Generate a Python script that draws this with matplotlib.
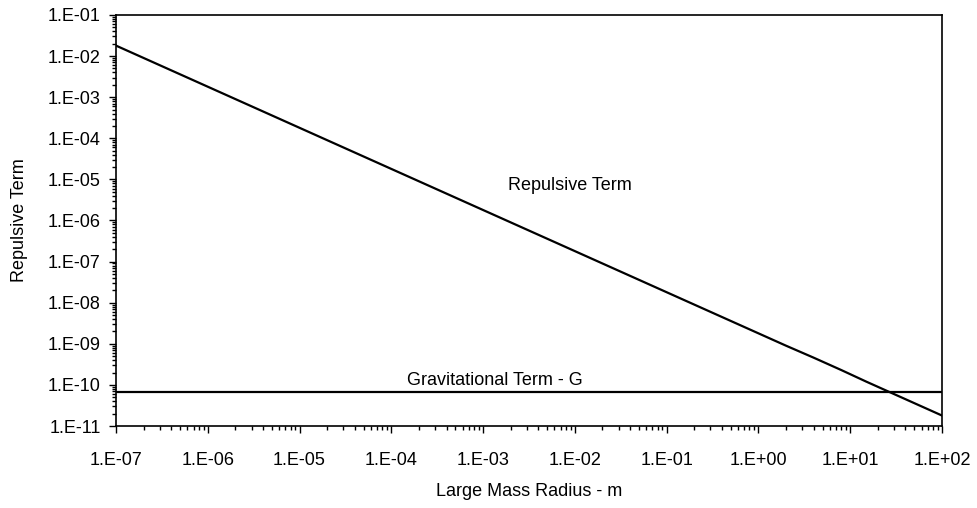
import numpy as np
import matplotlib.pyplot as plt
from matplotlib.ticker import LogLocator, NullFormatter

plt.rcParams['font.family'] = ['Liberation Sans', 'DejaVu Sans']

# large mass radius (m) and repulsive term
radius = [1e-7, 1e-6, 1e-5, 3e-5, 1e-4, 1e-3, 1e-2, 1e-1, 1e0, 2e0, 4e0, 8e0, 1.5e1, 3e1, 6e1, 1e2]
repulsive = [1.8e-2, 1.8e-3, 1.8e-4, 6.0e-5, 1.8e-5, 1.8e-6, 1.8e-7, 1.8e-8, 1.8e-9,
             9.0e-10, 4.6e-10, 2.3e-10, 1.2e-10, 6.0e-11, 3.0e-11, 1.8e-11]
G = 6.67e-11

fig = plt.figure(figsize=(9.77, 5.08), dpi=100)
ax = fig.add_axes([0.1187, 0.1614, 0.8454, 0.8091])

ax.plot(radius, repulsive, color='black', lw=1.6)
ax.plot([1e-7, 1e2], [G, G], color='black', lw=1.6)

ax.set_xscale('log')
ax.set_yscale('log')
ax.set_xlim(1e-7, 1e2)
ax.set_ylim(1e-11, 1e-1)

xt = [10.0**k for k in range(-7, 3)]
yt = [10.0**k for k in range(-11, 0)]
ax.set_xticks(xt)
ax.set_xticklabels(['1.E%+03d' % k for k in range(-7, 3)])
ax.set_yticks(yt)
ax.set_yticklabels(['1.E%+03d' % k for k in range(-11, 0)])
for a in (ax.xaxis, ax.yaxis):
    a.set_minor_locator(LogLocator(base=10, subs=np.arange(2, 10), numticks=100))
    a.set_minor_formatter(NullFormatter())
ax.tick_params(which='both', direction='out', labelsize=13, width=1)
ax.tick_params(which='major', length=5)
ax.tick_params(which='minor', length=3)
ax.tick_params(axis='x', pad=14)
ax.tick_params(axis='y', pad=6)
for s in ax.spines.values():
    s.set_linewidth(1.2)

ax.text(10**-2.05, 10**-5.14, 'Repulsive Term', ha='center', va='center', fontsize=13)
ax.text(10**-2.87, 10**-9.9, 'Gravitational Term - G', ha='center', va='center', fontsize=13)

ax.set_xlabel('Large Mass Radius - m', fontsize=13, labelpad=10)
ax.set_ylabel('Repulsive Term', fontsize=13, labelpad=14)

fig.savefig('out.png', dpi=100)
